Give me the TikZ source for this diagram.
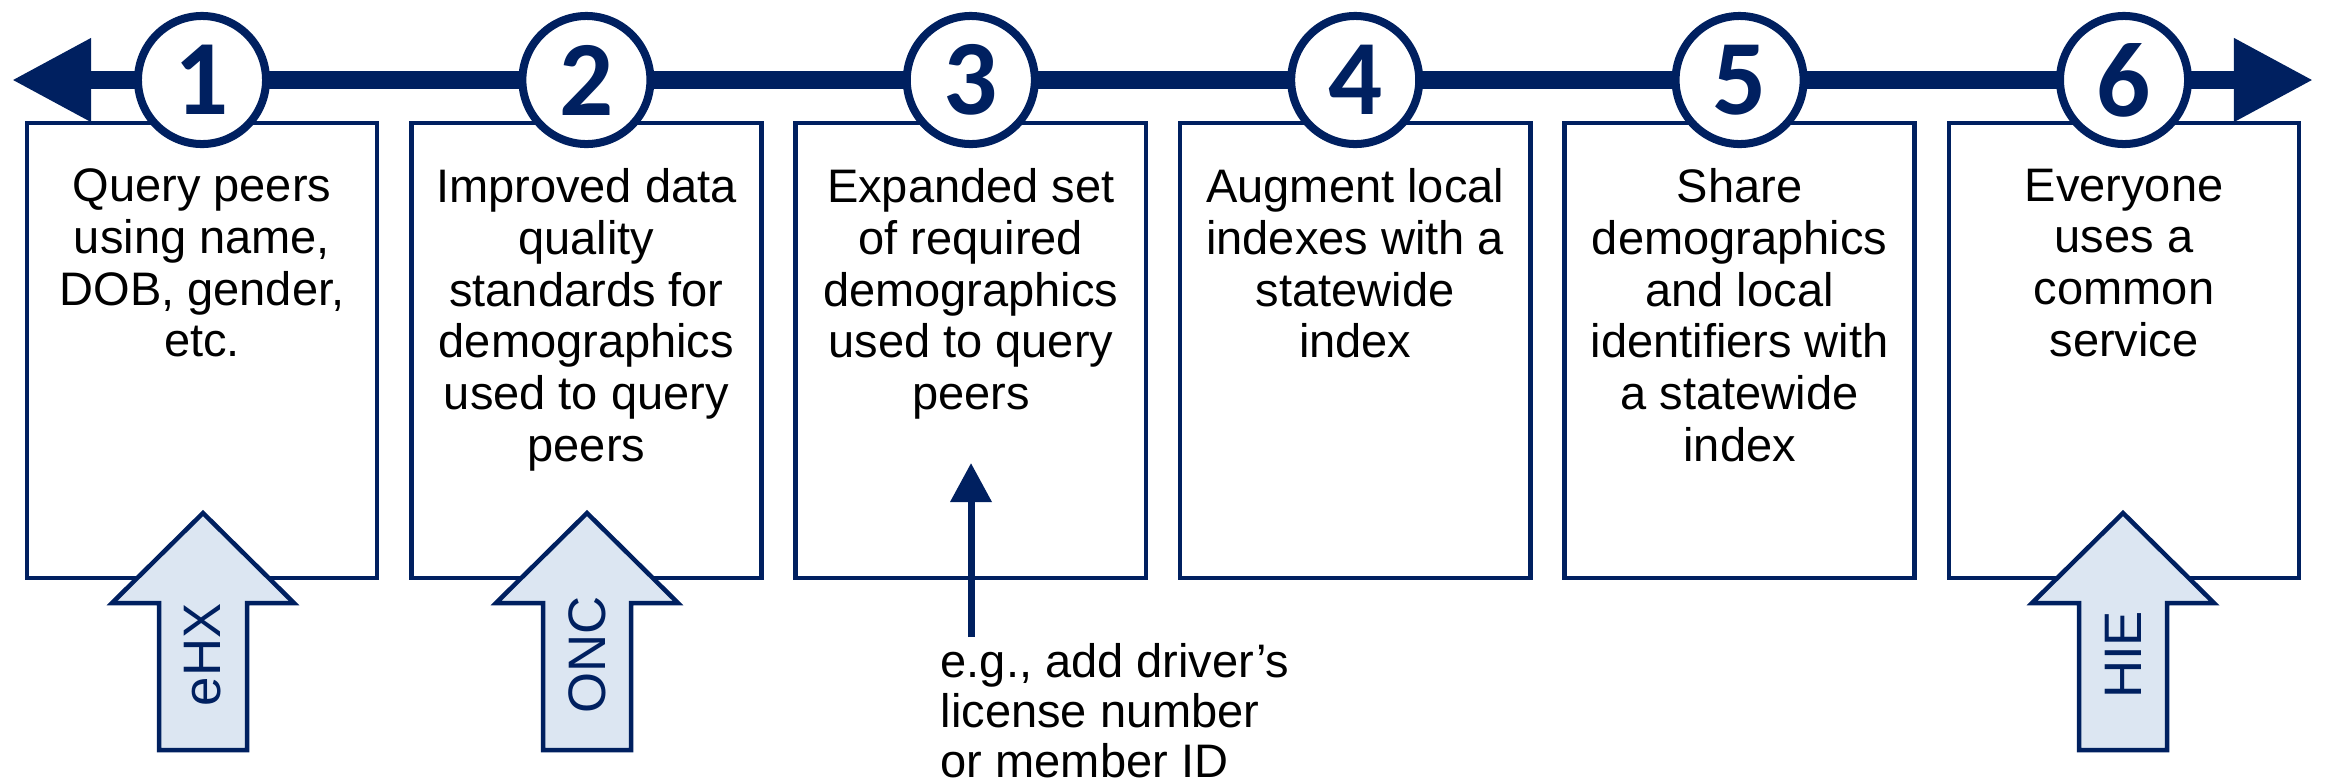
\documentclass[tikz,border=0pt]{standalone}
\usepackage{fontspec}
\setmainfont{Liberation Sans}
\newfontfamily\numfont{Carlito}
\usetikzlibrary{arrows.meta}
\definecolor{navy}{HTML}{002060}
\definecolor{pale}{HTML}{DCE6F2}
\begin{document}
\begin{tikzpicture}[x=0.01cm,y=-0.01cm,
  stepbox/.style={draw=navy, line width=1.28pt, fill=white, rectangle, minimum width=3.5cm, minimum height=4.55cm, inner sep=0pt},
  boxtext/.style={anchor=north, align=center, inner sep=0pt, font=\fontsize{13.37}{14.71}\selectfont, text=black},
  numcircle/.style={circle, draw=navy, line width=2.28pt, fill=white, minimum size=1.28cm, inner sep=0pt, font=\numfont\bfseries\fontsize{30.4}{30.4}\selectfont, text=navy},
  blockarrow/.style={draw=navy, line width=1.28pt, fill=pale, line join=miter},
  arrowlabel/.style={rotate=90, inner sep=0pt, text=navy, font=\fontsize{15}{15}\selectfont},
  timeline/.style={draw=navy, line width=4.84pt, {Triangle[width=0.79cm,length=0.79cm]}-{Triangle[width=0.79cm,length=0.79cm]}},
  pointer/.style={draw=navy, line width=2pt, -{Triangle[width=0.40cm,length=0.39cm]}},
  notetext/.style={anchor=north west, align=left, inner sep=0pt, font=\fontsize{13.37}{14.2}\selectfont, text=black},
]
\useasboundingbox (0,0) rectangle (2325,781);
% timeline
\coordinate (L) at (12,80);
\coordinate (R) at (2313,80);
\draw[timeline] (L) -- (R);
% boxes
\foreach \i/\cx in {1/202,2/586.4,3/970.8,4/1355.2,5/1739.6,6/2124}{
  \node[stepbox] (b\i) at (\cx,350.5) {};
}
% circles
\foreach \i/\cx in {1/202,2/586.4,3/970.8,4/1355.2,5/1739.6,6/2124}{
  \node[numcircle] (c\i) at (\cx,80) {\i};
}
% box texts
\node[boxtext] (t1) at (202,168) {Query peers\\using name,\\DOB, gender,\\etc.};
\node[boxtext] (t2) at (586.4,168) {Improved data\\quality\\standards for\\demographics\\used to query\\peers};
\node[boxtext] (t3) at (970.8,168) {Expanded set\\of required\\demographics\\used to query\\peers};
\node[boxtext] (t4) at (1355.2,168) {Augment local\\indexes with a\\statewide\\index};
\node[boxtext] (t5) at (1739.6,168) {Share\\demographics\\and local\\identifiers with\\a statewide\\index};
\node[boxtext] (t6) at (2124,168) {Everyone\\uses a\\common\\service};
% block arrows
\foreach \cx/\lab/\n in {203/eHX/a1,587/ONC/a2,2123/HIE/a6}{
  \draw[blockarrow] (\cx,513) -- (\cx+91,603) -- (\cx+44,603) -- (\cx+44,750)
     -- (\cx-44,750) -- (\cx-44,603) -- (\cx-91,603) -- cycle;
  \node[arrowlabel] (\n) at (\cx,655) {\lab};
}
% pointer arrow
\node[notetext] (eg) at (940,643) {e.g., add driver’s\\license number\\or member ID};
\coordinate (ptip) at (971,463);
\draw[pointer] (971,637) -- (ptip);
\end{tikzpicture}
\end{document}
